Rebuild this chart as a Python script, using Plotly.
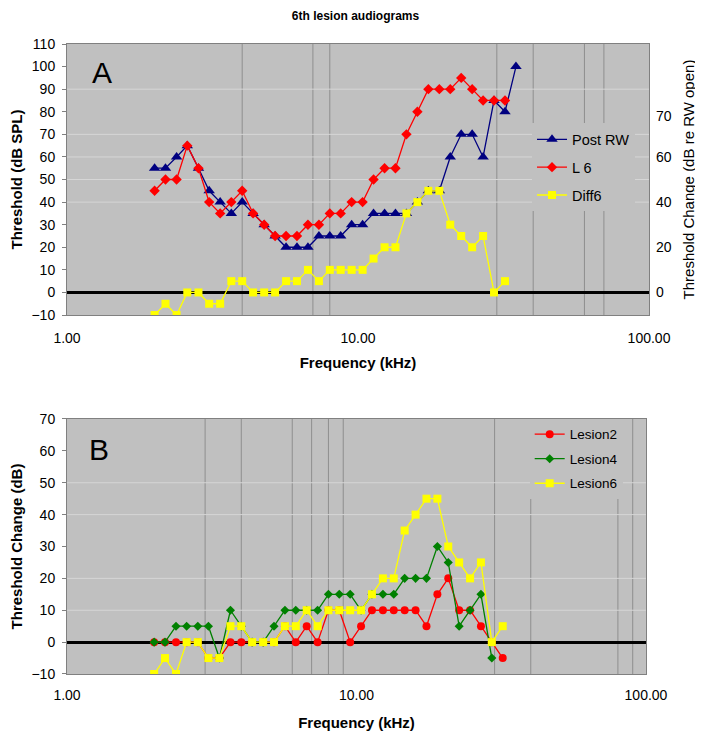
import plotly.graph_objects as go

# ---------------- data ----------------
freq_khz = [2.00, 2.18, 2.38, 2.59, 2.83, 3.08, 3.36, 3.67, 4.00, 4.36, 4.76, 5.19,
            5.66, 6.17, 6.73, 7.34, 8.00, 8.72, 9.51, 10.37, 11.31, 12.34, 13.45,
            14.67, 16.00, 17.45, 19.03, 20.75, 22.63, 24.68, 26.91, 29.34, 32.00, 34.90]

post_rw = [55, 55, 60, 65, 55, 45, 40, 35, 40, 35, 30, 25, 20, 20, 20, 25, 25, 25,
           30, 30, 35, 35, 35, 35, 40, 45, 45, 60, 70, 70, 60, 85, 80, 100]
l6 = [45, 50, 50, 65, 55, 40, 35, 40, 45, 35, 30, 25, 25, 25, 30, 30, 35, 35,
      40, 40, 50, 55, 55, 70, 80, 90, 90, 90, 95, 90, 85, 85, 85]
diff6 = [-10, -5, -10, 0, 0, -5, -5, 5, 5, 0, 0, 0, 5, 5, 10, 5, 10, 10, 10, 10,
         15, 20, 20, 35, 40, 45, 45, 30, 25, 20, 25, 0, 5]

lesion2 = [0, 0, 0, 0, 0, -5, -5, 0, 0, 0, 0, 0, 5, 0, 5, 0, 10, 10, 0, 5, 10, 10,
           10, 10, 10, 5, 15, 20, 10, 10, 5, 0, -5]
lesion4 = [0, 0, 5, 5, 5, 5, -5, 10, 5, 0, 0, 5, 10, 10, 10, 10, 15, 15, 15, 10,
           15, 15, 15, 20, 20, 20, 30, 25, 5, 10, 15, -5]
lesion6 = [-10, -5, -10, 0, 0, -5, -5, 5, 5, 0, 0, 0, 5, 5, 10, 5, 10, 10, 10, 10,
           15, 20, 20, 35, 40, 45, 45, 30, 25, 20, 25, 0, 5]

x_tickvals = [1, 10, 100]
x_ticktext = ["1.00", "10.00", "100.00"]
yA_ticks = [-10, 0, 10, 20, 30, 40, 50, 60, 70, 80, 90, 100, 110]
yA2_tickvals = [0, 20, 40, 60, 78]
yA2_ticktext = ["0", "20", "40", "60", "70"]
yB_ticks = [-10, 0, 10, 20, 30, 40, 50, 60, 70]

vlines_A = [4, 7, 8, 30, 40, 60, 70]
vlines_B = [3, 4, 6, 7, 8, 9, 30, 40, 80, 90]
hgrid_A = [40, 50, 60, 70, 90]
hgrid_B = [10, 20, 40, 50]

# ---------------- style ----------------
FONT = "Liberation Sans, Arial, sans-serif"
NAVY, RED, YEL, GRN = "#000080", "#ff0000", "#ffff00", "#008000"
PLOTBG = "#c0c0c0"
BORDER = "#808080"
VLINE = "#8e8e8e"
HGRID = "#d6d6d6"

# the page body keeps its default 8px margin, so the figure is 8px smaller
W, H = 695, 728

fig = go.Figure()

# Panel A
fig.add_trace(go.Scatter(x=freq_khz[:len(post_rw)], y=post_rw, name="Post RW",
                         mode="lines+markers", xaxis="x", yaxis="y",
                         line=dict(color=NAVY, width=1.3),
                         marker=dict(symbol="triangle-up", size=10, color=NAVY),
                         legend="legend", legendgroup="a1"))
fig.add_trace(go.Scatter(x=freq_khz[:len(l6)], y=l6, name="L 6",
                         mode="lines+markers", xaxis="x", yaxis="y",
                         line=dict(color=RED, width=1.3),
                         marker=dict(symbol="diamond", size=8, color=RED),
                         legend="legend", legendgroup="a2"))
fig.add_trace(go.Scatter(x=freq_khz[:len(diff6)], y=diff6, name="Diff6",
                         mode="lines+markers", xaxis="x", yaxis="y2",
                         line=dict(color=YEL, width=1.3),
                         marker=dict(symbol="square", size=8, color=YEL),
                         legend="legend", legendgroup="a3"))

# Panel B
fig.add_trace(go.Scatter(x=freq_khz[:len(lesion2)], y=lesion2, name="Lesion2",
                         mode="lines+markers", xaxis="x2", yaxis="y3",
                         line=dict(color=RED, width=1.3),
                         marker=dict(symbol="circle", size=8, color=RED),
                         legend="legend2", legendgroup="b1"))
fig.add_trace(go.Scatter(x=freq_khz[:len(lesion4)], y=lesion4, name="Lesion4",
                         mode="lines+markers", xaxis="x2", yaxis="y3",
                         line=dict(color=GRN, width=1.3),
                         marker=dict(symbol="diamond", size=7, color=GRN),
                         legend="legend2", legendgroup="b2"))
fig.add_trace(go.Scatter(x=freq_khz[:len(lesion6)], y=lesion6, name="Lesion6",
                         mode="lines+markers", xaxis="x2", yaxis="y3",
                         line=dict(color=YEL, width=1.3),
                         marker=dict(symbol="square", size=8, color=YEL),
                         legend="legend2", legendgroup="b3"))

shapes = []
for v in vlines_A:
    shapes.append(dict(type="line", xref="x", yref="y domain", x0=v, x1=v, y0=0, y1=1,
                       line=dict(color=VLINE, width=1), layer="below"))
for v in hgrid_A:
    shapes.append(dict(type="line", xref="x domain", yref="y", x0=0, x1=1, y0=v, y1=v,
                       line=dict(color=HGRID, width=1), layer="below"))
for v in vlines_B:
    shapes.append(dict(type="line", xref="x2", yref="y3 domain", x0=v, x1=v, y0=0, y1=1,
                       line=dict(color=VLINE, width=1), layer="below"))
for v in hgrid_B:
    shapes.append(dict(type="line", xref="x2 domain", yref="y3", x0=0, x1=1, y0=v, y1=v,
                       line=dict(color=HGRID, width=1), layer="below"))

axis_common = dict(showline=True, mirror=True, linecolor=BORDER, linewidth=1,
                   showgrid=False, automargin=False,
                   tickfont=dict(size=14, color="#000000"))

bold_title = dict(size=15, color="#000000")

fig.update_layout(
    width=W, height=H,
    margin=dict(l=59, r=54, t=36, b=62, autoexpand=False),
    paper_bgcolor="#ffffff",
    plot_bgcolor=PLOTBG,
    font=dict(family=FONT, color="#000000"),
    title=dict(text="<b>6th lesion audiograms</b>", x=0.5, xref="container",
               y=1 - 7.5 / H, yref="container", yanchor="middle", xanchor="center",
               pad=dict(t=0, b=0, l=0, r=0),
               font=dict(size=12, color="#000000")),
    xaxis=dict(domain=[0, 1], anchor="y", type="log", range=[0, 2],
               tickvals=x_tickvals, ticktext=x_ticktext, ticks="",
               ticklabelstandoff=10, zeroline=False,
               title=dict(text="<b>Frequency (kHz)</b>", font=bold_title, standoff=12),
               **axis_common),
    yaxis=dict(domain=[0.5698, 1], anchor="x", range=[-10, 110], tickvals=yA_ticks,
               ticks="outside", ticklen=4, tickcolor=BORDER, ticklabelstandoff=4,
               zeroline=True, zerolinecolor="#000000", zerolinewidth=3,
               title=dict(text="<b>Threshold (dB SPL)</b>", font=bold_title, standoff=10),
               **axis_common),
    yaxis2=dict(overlaying="y", anchor="x", side="right", range=[-10, 110],
                tickvals=yA2_tickvals, ticktext=yA2_ticktext, ticks="",
                ticklabelstandoff=6, showgrid=False, zeroline=False, showline=False,
                automargin=False,
                tickfont=dict(size=14, color="#000000"),
                title=dict(text="Threshold Change (dB re RW open)",
                           font=dict(size=15, color="#000000"), standoff=12)),
    xaxis2=dict(domain=[0, 0.9948], anchor="y3", type="log", range=[0, 2],
                tickvals=x_tickvals, ticktext=x_ticktext, ticks="",
                ticklabelstandoff=8, zeroline=False,
                title=dict(text="<b>Frequency (kHz)</b>", font=bold_title, standoff=15),
                **axis_common),
    yaxis3=dict(domain=[0, 0.4048], anchor="x2", range=[-10, 70], tickvals=yB_ticks,
                ticks="outside", ticklen=4, tickcolor=BORDER, ticklabelstandoff=4,
                zeroline=True, zerolinecolor="#000000", zerolinewidth=3,
                title=dict(text="<b>Threshold Change (dB)</b>", font=bold_title, standoff=10),
                **axis_common),
    legend=dict(x=0.799, y=0.874, xanchor="left", yanchor="top", bgcolor=PLOTBG,
                borderwidth=0, font=dict(size=14.5, color="#000000"),
                traceorder="grouped", tracegroupgap=6),
    legend2=dict(x=0.795, y=0.405, xanchor="left", yanchor="top", bgcolor=PLOTBG,
                 borderwidth=0, font=dict(size=13.5, color="#000000"),
                 traceorder="grouped", tracegroupgap=4),
    shapes=shapes,
    annotations=[
        dict(text="A", xref="x domain", yref="y domain", x=0.0596, y=0.893,
             showarrow=False, font=dict(size=30, color="#000000"),
             xanchor="center", yanchor="middle"),
        dict(text="B", xref="x2 domain", yref="y3 domain", x=0.0555, y=0.881,
             showarrow=False, font=dict(size=30, color="#000000"),
             xanchor="center", yanchor="middle"),
    ],
)

fig.write_html("out.html", config={"displayModeBar": False})
